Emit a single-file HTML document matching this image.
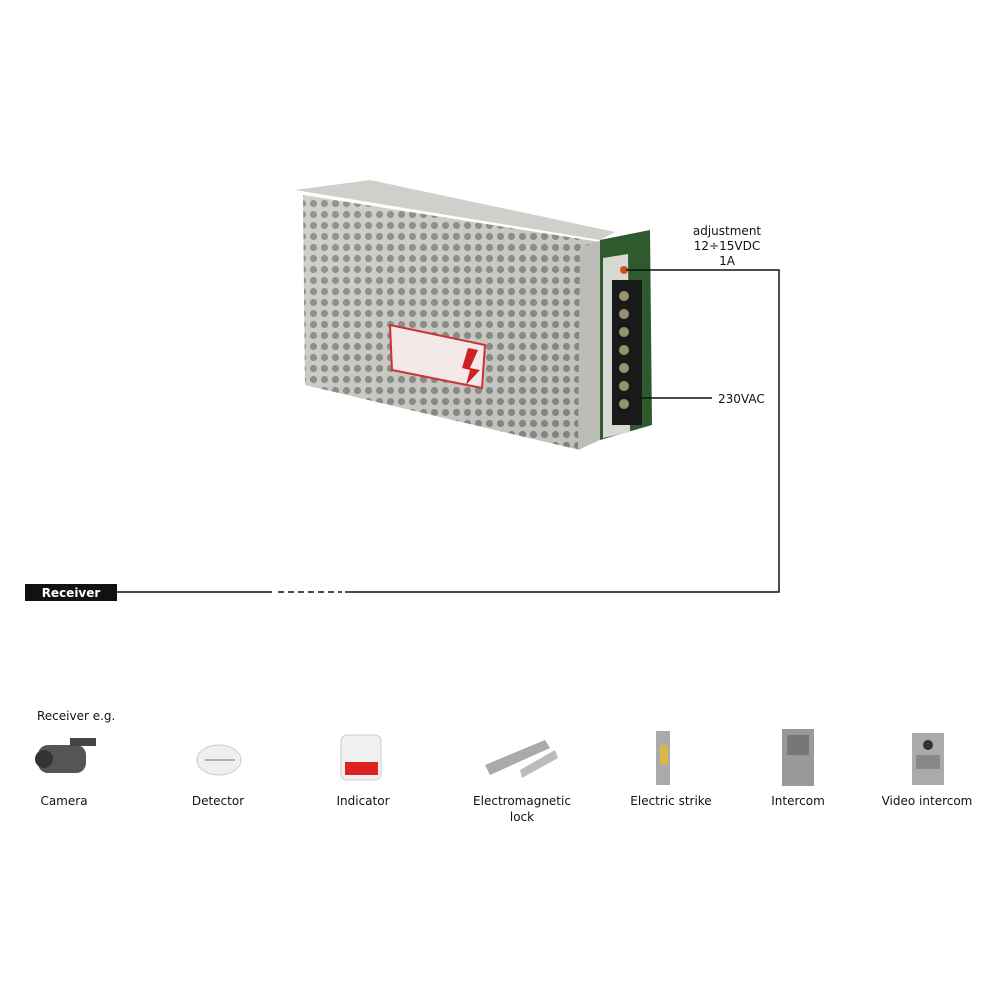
<!DOCTYPE html>
<html><head><style>
body{margin:0;background:#fff;width:1000px;height:1000px;overflow:hidden;font-family:"DejaVu Sans","Liberation Sans",sans-serif;}
svg{position:absolute;left:0;top:0}
.t{font-size:12px;fill:#111}
</style></head><body>
<svg width="1000" height="1000" viewBox="0 0 1000 1000">
<defs>
<pattern id="holes" width="11" height="11" patternUnits="userSpaceOnUse">
<rect width="11" height="11" fill="#c9c9c6"/>
<circle cx="5.5" cy="5.5" r="3.6" fill="#6d6d68"/>
</pattern>
<linearGradient id="silver" x1="0" y1="0" x2="1" y2="1">
<stop offset="0" stop-color="#e0e0dc"/><stop offset="1" stop-color="#a9a9a4"/>
</linearGradient>
</defs>
<!-- top lid -->
<polygon points="295,190 370,180 615,232 600,240" fill="#cfcfcb"/>
<!-- front face -->
<polygon points="303,195 600,242 580,450 305,385" fill="url(#holes)"/>
<polygon points="303,195 600,242 580,450 305,385" fill="url(#silver)" opacity="0.35"/>
<!-- label -->
<polygon points="390,325 485,345 482,388 392,370" fill="#f3e9e9" stroke="#c33" stroke-width="2"/>
<polygon points="468,348 478,350 470,368 480,370 466,385 470,370 462,368" fill="#c22"/>
<!-- side panel -->
<polygon points="580,248 602,240 600,440 578,450" fill="#bdbdb8"/>
<!-- terminal panel -->
<polygon points="600,240 650,230 652,425 600,440" fill="#2e5a2e"/>
<polygon points="603,258 628,254 630,432 603,438" fill="#d9d9d3"/>
<rect x="612" y="280" width="30" height="145" fill="#1a1a1a"/>
<g fill="#9a8f70">
<circle cx="624" cy="296" r="5"/><circle cx="624" cy="314" r="5"/><circle cx="624" cy="332" r="5"/><circle cx="624" cy="350" r="5"/><circle cx="624" cy="368" r="5"/><circle cx="624" cy="386" r="5"/><circle cx="624" cy="404" r="5"/>
</g>
<circle cx="624" cy="270" r="4" fill="#d0501e"/>
<!-- lines -->
<g stroke="#111" stroke-width="1.5" fill="none">
<polyline points="626,270 779,270 779,592 345,592"/>
<line x1="117" y1="592" x2="272" y2="592"/>
<line x1="278" y1="592" x2="342" y2="592" stroke-dasharray="6,4"/>
<line x1="638" y1="398" x2="712" y2="398"/>
</g>
<text class="t" x="727" y="235" text-anchor="middle">adjustment</text>
<text class="t" x="727" y="250" text-anchor="middle">12÷15VDC</text>
<text class="t" x="727" y="265" text-anchor="middle">1A</text>
<text class="t" x="718" y="403">230VAC</text>
<rect x="25" y="584" width="92" height="17" fill="#111"/>
<text x="71" y="597" text-anchor="middle" font-size="12" font-weight="bold" fill="#fff">Receiver</text>
<text class="t" x="37" y="720">Receiver e.g.</text>
<!-- icons -->
<g>
<rect x="38" y="745" width="48" height="28" rx="10" fill="#555"/>
<circle cx="44" cy="759" r="9" fill="#333"/>
<rect x="70" y="738" width="26" height="8" fill="#444"/>
<ellipse cx="219" cy="760" rx="22" ry="15" fill="#efefef" stroke="#ccc"/>
<line x1="205" y1="760" x2="235" y2="760" stroke="#777"/>
<rect x="341" y="735" width="40" height="45" rx="6" fill="#f0f0f0" stroke="#ccc"/>
<rect x="345" y="762" width="33" height="13" fill="#d22"/>
<polygon points="485,765 545,740 550,748 490,775" fill="#aaa"/>
<polygon points="520,770 555,750 558,758 522,778" fill="#bbb"/>
<rect x="656" y="731" width="14" height="54" fill="#aaa"/>
<rect x="660" y="745" width="8" height="20" fill="#d9b84a"/>
<rect x="782" y="729" width="32" height="57" fill="#999"/>
<rect x="787" y="735" width="22" height="20" fill="#777"/>
<rect x="912" y="733" width="32" height="52" fill="#aaa"/>
<circle cx="928" cy="745" r="5" fill="#333"/>
<rect x="916" y="755" width="24" height="14" fill="#888"/>
</g>
<g class="t" text-anchor="middle">
<text class="t" x="64" y="805">Camera</text>
<text class="t" x="218" y="805">Detector</text>
<text class="t" x="363" y="805">Indicator</text>
<text class="t" x="522" y="805">Electromagnetic</text>
<text class="t" x="522" y="821">lock</text>
<text class="t" x="671" y="805">Electric strike</text>
<text class="t" x="798" y="805">Intercom</text>
<text class="t" x="927" y="805">Video intercom</text>
</g>
</svg>
</body></html>
